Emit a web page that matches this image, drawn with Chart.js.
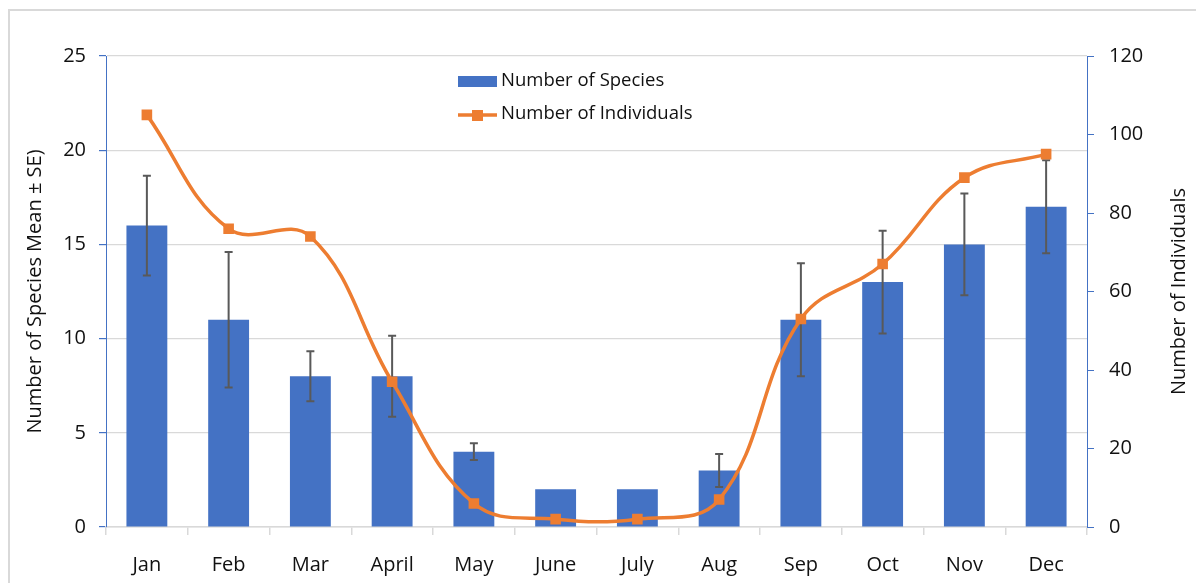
<!DOCTYPE html>
<html><head><meta charset="utf-8">
<script src="https://cdn.jsdelivr.net/npm/chart.js@4"></script>
<style>
html,body{margin:0;padding:0;background:#fff;overflow:hidden;}
#wrap{position:relative;width:1196px;height:583px;}
#frame{position:absolute;left:8px;top:9px;width:1200px;height:620px;border:2px solid #d9d9d9;box-sizing:border-box;}
canvas{position:absolute;left:0;top:0;}
</style></head>
<body><div id="wrap"><div id="frame"></div><canvas id="c" width="1196" height="583"></canvas></div>
<script>
const months = ['Jan','Feb','Mar','April','May','June','July','Aug','Sep','Oct','Nov','Dec'];
const species = [16, 11, 8, 8, 4, 2, 2, 3, 11, 13, 15, 17];
const speciesSE = [2.65, 3.6, 1.33, 2.15, 0.45, 0, 0, 0.88, 3.0, 2.73, 2.7, 2.47];
const individuals = [105, 76, 74, 37, 6, 2, 2, 7, 53, 67, 89, 95];
const speciesAxis = {min: 0, max: 25, step: 5};
const individualsAxis = {min: 0, max: 120, step: 20};
const seriesNames = ['Number of Species', 'Number of Individuals'];
const axisTitles = ['Number of Species Mean ± SE)', 'Number of Individuals'];

const BLUE = '#4472C4', ORANGE = '#ED7D31', GRID = '#d9d9d9', TXT = '#111111';
const FONT = "'Open Sans', sans-serif";

const errorBars = {
  id: 'errorBars',
  afterDatasetDraw(chart, args) {
    if (args.index !== 0) return;
    const ctx = chart.ctx, meta = chart.getDatasetMeta(0), ys = chart.scales.y;
    ctx.save();
    ctx.strokeStyle = '#595959';
    ctx.lineWidth = 2;
    meta.data.forEach((bar, i) => {
      const se = speciesSE[i];
      if (!se) return;
      const x = bar.x;
      const yt = ys.getPixelForValue(species[i] + se);
      const yb = ys.getPixelForValue(species[i] - se);
      ctx.beginPath();
      ctx.moveTo(x, yt); ctx.lineTo(x, yb);
      ctx.moveTo(x - 4, yt); ctx.lineTo(x + 4, yt);
      ctx.moveTo(x - 4, yb); ctx.lineTo(x + 4, yb);
      ctx.stroke();
    });
    ctx.restore();
  }
};

const innerLegend = {
  id: 'innerLegend',
  afterDraw(chart) {
    const ctx = chart.ctx;
    ctx.save();
    ctx.font = '18.5px ' + FONT;
    ctx.textBaseline = 'middle';
    ctx.fillStyle = BLUE;
    ctx.fillRect(458, 76, 39, 11);
    ctx.fillStyle = TXT;
    ctx.fillText(seriesNames[0], 501, 81);
    ctx.strokeStyle = ORANGE;
    ctx.lineWidth = 3.5;
    ctx.beginPath(); ctx.moveTo(458, 115); ctx.lineTo(497, 115); ctx.stroke();
    ctx.fillStyle = ORANGE;
    ctx.fillRect(472, 110, 11, 11);
    ctx.fillStyle = TXT;
    ctx.fillText(seriesNames[1], 501, 114);
    // right axis title (reads bottom to top)
    const ys = chart.scales.y1;
    ctx.font = '20px ' + FONT;
    ctx.textAlign = 'center';
    ctx.translate(1179, (ys.top + ys.bottom) / 2);
    ctx.rotate(-Math.PI / 2);
    ctx.fillText(axisTitles[1], 0, 0);
    ctx.restore();
  }
};

new Chart(document.getElementById('c'), {
  data: {
    labels: months,
    datasets: [
      {type: 'bar', label: seriesNames[0], data: species, backgroundColor: BLUE,
       yAxisID: 'y', barPercentage: 0.5, categoryPercentage: 1, order: 1},
      {type: 'line', label: seriesNames[1], data: individuals, borderColor: ORANGE,
       backgroundColor: ORANGE, borderWidth: 3.5, tension: 0.4, pointStyle: 'rect',
       pointRadius: 7.5, pointHoverRadius: 7.5, pointBackgroundColor: ORANGE,
       pointBorderColor: ORANGE, pointBorderWidth: 0, yAxisID: 'y1', order: 0}
    ]
  },
  options: {
    responsive: false, animation: false, devicePixelRatio: 1,
    layout: {padding: {top: 56, left: 0, right: 0, bottom: 0}},
    plugins: {legend: {display: false}, tooltip: {enabled: false}},
    scales: {
      x: {
        grid: {display: true, drawOnChartArea: false, drawTicks: true, tickLength: 8,
               color: GRID, tickColor: GRID, offset: true, lineWidth: 1.5},
        border: {color: GRID, width: 1.5},
        ticks: {font: {size: 20, family: FONT}, color: TXT, padding: 18},
        afterFit(s) { s.height = 56; }
      },
      y: {
        position: 'left', min: speciesAxis.min, max: speciesAxis.max,
        ticks: {stepSize: speciesAxis.step, font: {size: 20, family: FONT}, color: TXT, padding: 13},
        grid: {color: GRID, tickColor: BLUE, tickLength: 7, lineWidth: 1.2},
        border: {color: BLUE, width: 1},
        title: {display: true, text: axisTitles[0], font: {size: 20, family: FONT}, color: TXT,
                padding: {top: 23, bottom: 0}},
        afterFit(s) { s.width = 106; }
      },
      y1: {
        position: 'right', min: individualsAxis.min, max: individualsAxis.max,
        ticks: {stepSize: individualsAxis.step, font: {size: 20, family: FONT}, color: TXT, padding: 15},
        grid: {drawOnChartArea: false, tickColor: BLUE, tickLength: 7},
        border: {color: BLUE, width: 1},
        title: {display: false},
        afterFit(s) { s.width = 109; }
      }
    }
  },
  plugins: [errorBars, innerLegend]
});
</script>
</body></html>
